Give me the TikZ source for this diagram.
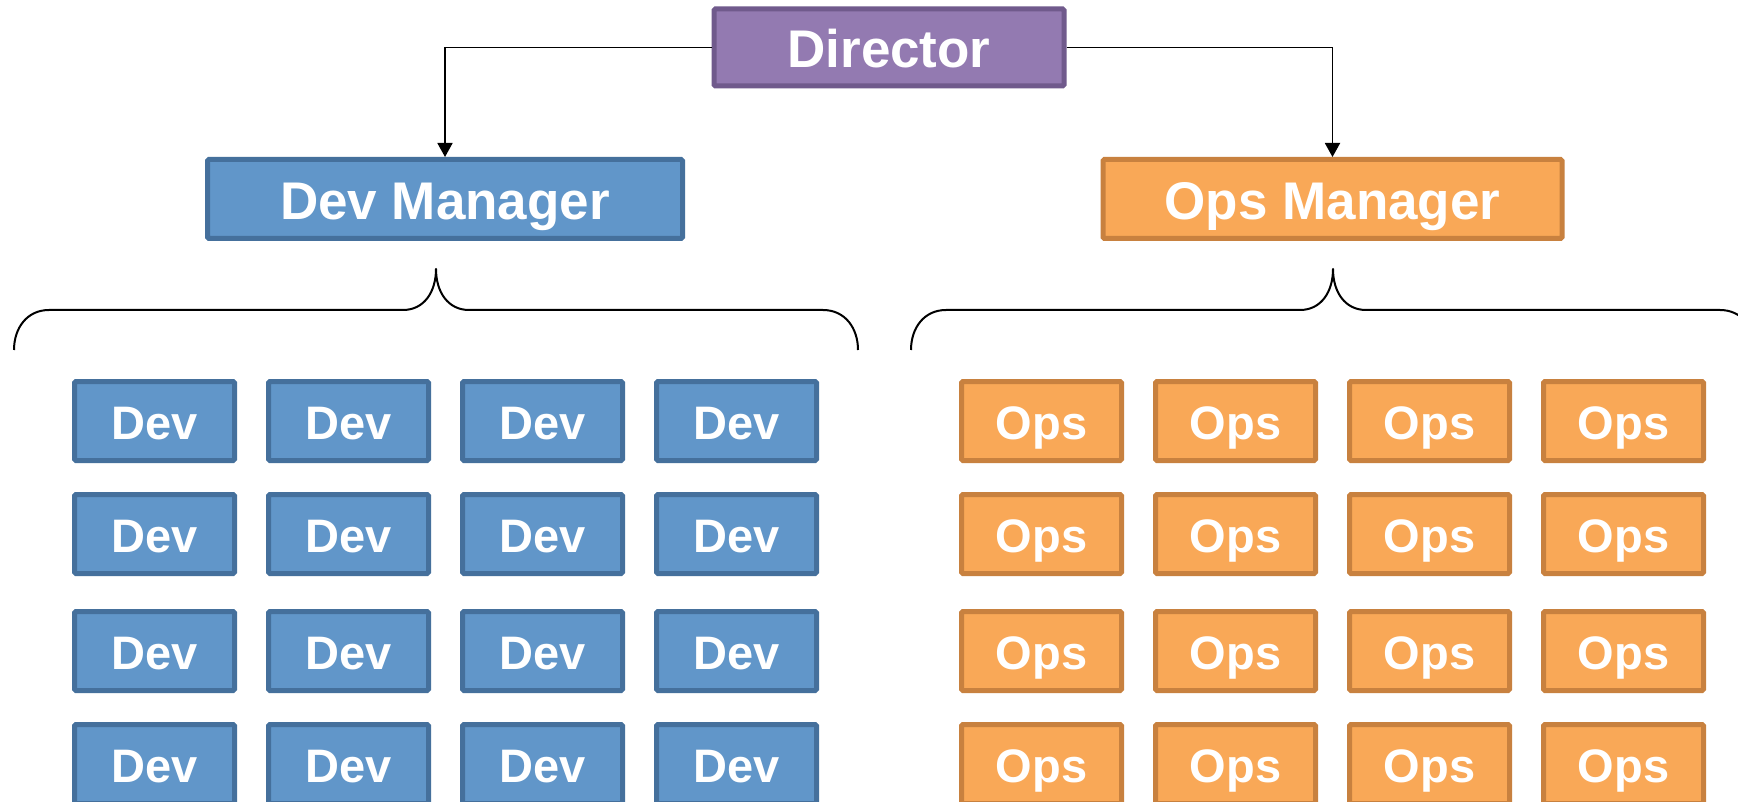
\documentclass[tikz,border=0pt]{standalone}
\usepackage{fontspec}
\setmainfont{Liberation Sans}
\usetikzlibrary{arrows.meta}
\definecolor{dirfill}{HTML}{937AB1}
\definecolor{dirline}{HTML}{705A8C}
\definecolor{devfill}{HTML}{6196C9}
\definecolor{devline}{HTML}{45709C}
\definecolor{opsfill}{HTML}{F9A857}
\definecolor{opsline}{HTML}{C8813F}
\tikzset{
  box/.style={draw, line width=5pt, rounded corners=1.5pt, inner sep=0pt, text=white, font=\bfseries},
  bigtext/.style={font=\fontsize{53}{53}\selectfont\bfseries, text height=41pt, text depth=0pt},
  smalltext/.style={font=\fontsize{47}{47}\selectfont\bfseries, text height=37pt, text depth=0pt},
  dirbox/.style={box, bigtext, fill=dirfill, draw=dirline, minimum width=350pt, minimum height=77pt},
  mgrdev/.style={box, bigtext, fill=devfill, draw=devline, minimum width=475pt, minimum height=79pt},
  mgrops/.style={box, bigtext, fill=opsfill, draw=opsline, minimum width=459pt, minimum height=79pt},
  devbox/.style={box, smalltext, fill=devfill, draw=devline, minimum width=160pt, minimum height=79pt},
  opsbox/.style={box, smalltext, fill=opsfill, draw=opsline, minimum width=160pt, minimum height=79pt},
  conn/.style={draw=black, line width=1.8pt, -{Triangle[length=14pt,width=15pt]}},
  bracestyle/.style={draw=black, line width=2pt, line join=round}
}
\begin{document}
\begin{tikzpicture}[x=1pt,y=-1pt]
\useasboundingbox (0,0) rectangle (1738,802);
\clip (0,0) rectangle (1738,802);
\fill[white] (0,0) rectangle (1738,802);

\node[dirbox] (dir) at (889,47.5) {Director};
\node[mgrdev] (devm) at (445,199) {Dev Manager};
\node[mgrops] (opsm) at (1332.5,199) {Ops Manager};

\draw[conn] (dir.west) -| (devm.north);
\draw[conn] (dir.east) -| (opsm.north);

% braces
\foreach \c in {436,1333}{
  \draw[bracestyle] (\c-422,350) .. controls (\c-422,328) and (\c-409,310) .. (\c-387,310)
    -- (\c-33,310) .. controls (\c-12,310) and (\c,292) .. (\c,269)
    .. controls (\c,292) and (\c+12,310) .. (\c+33,310)
    -- (\c+387,310) .. controls (\c+409,310) and (\c+422,328) .. (\c+422,350);
}

% grids
\foreach \r/\y in {1/421,2/534,3/651,4/764}{
  \foreach \k/\x in {1/154.5,2/348.5,3/542.5,4/736.5}{
    \node[devbox] (d\r\k) at (\x,\y) {Dev};
  }
  \foreach \k/\x in {1/1041.5,2/1235.5,3/1429.5,4/1623.5}{
    \node[opsbox] (o\r\k) at (\x,\y) {Ops};
  }
}
\end{tikzpicture}
\end{document}
